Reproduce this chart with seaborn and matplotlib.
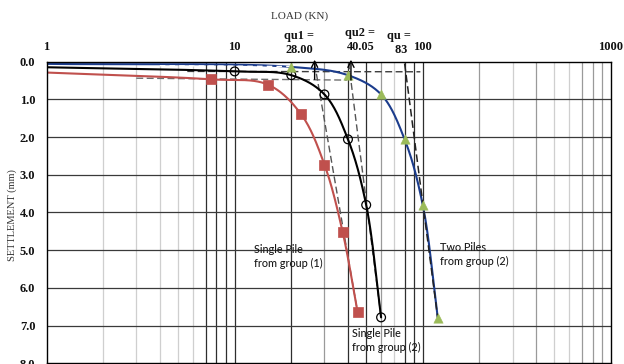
import numpy as np
import matplotlib
matplotlib.use("Agg")
import matplotlib.pyplot as plt
import seaborn as sns

# ---------------- data ----------------
# first point of each series = start of the curve at the left axis edge (no marker)
load_g1 = [1, 7.5, 15, 22.5, 30, 37.5, 45]
settle_g1 = [0.29, 0.47, 0.61, 1.39, 2.73, 4.52, 6.64]
load_g2 = [1, 10, 20, 30, 40, 50, 60]
settle_g2 = [0.15, 0.26, 0.36, 0.87, 2.06, 3.80, 6.78]
load_two = [1, 20, 40, 60, 80, 100, 120]
settle_two = [0.06, 0.14, 0.36, 0.87, 2.06, 3.81, 6.79]

# construction (tangent) lines
tanA_load = [3.0, 39.5]
tanA_settle = [0.44, 0.49]
tanB_load = [5.6, 97]
tanB_settle = [0.26, 0.27]
tanC_load = [4.0, 20]
tanC_settle = [0.11, 0.13]
tan_g1_load = [26.6, 45]
tan_g1_settle = [0.05, 6.64]
tan_g2_load = [40.3, 60]
tan_g2_settle = [0.02, 6.78]
tan_two_load = [80, 120]
tan_two_settle = [0.05, 6.79]

arrow_load = [26.6, 41.5]
arrow_from = [0.47, 0.49]

qu_texts = ["qu1 =\n28.00", "qu2 =\n40.05", "qu =\n 83"]
qu_load = [22.1, 46.6, 75.0]
qu_settle = [-0.50, -0.57, -0.50]

curve_texts = ["Single Pile\nfrom group (1)", "Single Pile\nfrom group (2)", "Two Piles\nfrom group (2)"]
curve_text_load = [12.6, 41.8, 123.8]
curve_text_settle = [5.17, 7.39, 5.11]

x_ticks = [1, 10, 100, 1000]
x_tick_labels = ["1", "10", "100", "1000"]
y_ticks = [0, 1, 2, 3, 4, 5, 6, 7, 8]

minor_vals = [2, 3, 4, 5, 6, 7, 8, 9, 10, 20, 30, 40, 50, 60, 70, 80, 90, 100,
              200, 300, 400, 500, 600, 700, 800, 900]
minor_shade = ["l", "l", "l", "l", "l", "d", "d", "d", "d", "d", "m", "d", "d", "m", "l", "d", "d", "d",
               "m", "l", "m", "l", "l", "m", "m", "m"]

# ---------------- helpers ----------------
SX, SY = 188.5, 37.7


def smooth(xs, ys, n=40):
    u = np.log10(np.asarray(xs, float)) * SX
    v = np.asarray(ys, float) * SY
    P = np.column_stack([u, v])
    P = np.vstack([2 * P[0] - P[1], P, 2 * P[-1] - P[-2]])
    out = []
    for i in range(1, len(P) - 2):
        p0, p1, p2, p3 = P[i - 1], P[i], P[i + 1], P[i + 2]
        t0 = 0.0
        t1 = t0 + np.linalg.norm(p1 - p0) ** 0.5
        t2 = t1 + np.linalg.norm(p2 - p1) ** 0.5
        t3 = t2 + np.linalg.norm(p3 - p2) ** 0.5
        t = np.linspace(t1, t2, n)[:, None]
        A1 = (t1 - t) / (t1 - t0) * p0 + (t - t0) / (t1 - t0) * p1
        A2 = (t2 - t) / (t2 - t1) * p1 + (t - t1) / (t2 - t1) * p2
        A3 = (t3 - t) / (t3 - t2) * p2 + (t - t2) / (t3 - t2) * p3
        B1 = (t2 - t) / (t2 - t0) * A1 + (t - t0) / (t2 - t0) * A2
        B2 = (t3 - t) / (t3 - t1) * A2 + (t - t1) / (t3 - t1) * A3
        C = (t2 - t) / (t2 - t1) * B1 + (t - t1) / (t2 - t1) * B2
        out.append(C if i == len(P) - 3 else C[:-1])
    C = np.vstack(out)
    return 10 ** (C[:, 0] / SX), C[:, 1] / SY


# ---------------- figure ----------------
sns.set_theme(style="white")
plt.rcParams["font.family"] = ["Liberation Serif", "DejaVu Serif"]

fig = plt.figure(figsize=(6.24, 3.64), dpi=100)
ax = fig.add_axes([46.5 / 624, 1 - 363.4 / 364, 564.5 / 624, 301.8 / 364])
ax.set_facecolor("white")
ax.set_xscale("log")
ax.set_xlim(1, 1000)
ax.set_ylim(8, 0)

# grid lines
shade_col = {"l": "#cfcfcf", "m": "#9a9a9a", "d": "#2e2e2e"}
for v, s in zip(minor_vals, minor_shade):
    ax.axvline(v, color=shade_col[s], lw=0.9, zorder=1)
for yv in y_ticks[1:-1]:
    ax.axhline(yv, color="#3a3a3a", lw=0.9, zorder=1)

# construction dashed lines
dash = dict(ls=(0, (5, 2.5)), lw=1.0, zorder=3)
ax.plot(tanA_load, tanA_settle, color="#6e6e6e", **dash)
ax.plot(tanB_load, tanB_settle, color="#3c3c3c", **dash)
ax.plot(tanC_load, tanC_settle, color="white", ls=(0, (4, 3)), lw=1.0, zorder=5)
ax.plot(tan_g1_load, tan_g1_settle, color="#555555", **dash)
ax.plot(tan_g2_load, tan_g2_settle, color="#555555", **dash)
ax.plot(tan_two_load, tan_two_settle, color="#222222", ls=(0, (5, 2.5)), lw=1.1, zorder=6)

# curves
red, navy, green = "#C0504D", "#1B3C8C", "#9BBB59"
for xs, ys, col in [(load_g1, settle_g1, red), (load_g2, settle_g2, "black"), (load_two, settle_two, navy)]:
    sx, sy = smooth(xs, ys)
    sns.lineplot(x=sx, y=sy, sort=False, estimator=None, color=col, lw=1.5, ax=ax, zorder=4)

sns.scatterplot(x=load_g1[1:], y=settle_g1[1:], marker="s", s=42, color=red, edgecolor=red,
                linewidth=0.5, ax=ax, zorder=7)
sns.scatterplot(x=load_g2[1:], y=settle_g2[1:], marker="o", s=40, facecolor="none", edgecolor="black",
                linewidth=0.9, ax=ax, zorder=7)
sns.scatterplot(x=load_two[1:], y=settle_two[1:], marker="^", s=46, color=green, edgecolor=green,
                linewidth=0.3, ax=ax, zorder=7)

# arrows (qu1, qu2)
for xl, y0 in zip(arrow_load, arrow_from):
    ax.annotate("", xy=(xl, -0.05), xytext=(xl, y0), annotation_clip=False,
                arrowprops=dict(arrowstyle="->", color="black", lw=1.0, shrinkA=0, shrinkB=0,
                                mutation_scale=11), zorder=8)

# qu labels
for t, xl, yl in zip(qu_texts, qu_load, qu_settle):
    ax.text(xl, yl, t, ha="center", va="center", fontsize=8.8, fontweight="bold",
            linespacing=1.25, clip_on=False, color="#111111")

# curve labels
for t, xl, yl in zip(curve_texts, curve_text_load, curve_text_settle):
    ax.text(xl, yl, t, ha="left", va="center", fontsize=7.8, family=["Lato", "DejaVu Sans"],
            fontweight="medium", linespacing=1.35, color="#1a1a1a", zorder=9)

# axes, ticks, labels
ax.xaxis.tick_top()
ax.set_xticks(x_ticks)
ax.set_xticklabels(x_tick_labels)
ax.xaxis.set_minor_locator(matplotlib.ticker.NullLocator())
ax.set_yticks(y_ticks)
ax.set_yticklabels([f"{v:.1f}" for v in y_ticks])
ax.tick_params(axis="both", length=0, labelsize=9, colors="#111111")
ax.tick_params(axis="x", pad=6)
ax.tick_params(axis="y", pad=8)
for lab in ax.get_xticklabels() + ax.get_yticklabels():
    lab.set_fontweight("bold")

ax.xaxis.set_label_position("top")
ax.set_xlabel("LOAD (KN)", fontsize=8, color="#333333")
ax.xaxis.set_label_coords((300 - 46.5) / 564.5, 1 + 45.6 / 301.8)
ax.xaxis.label.set_va("center")
ax.set_ylabel("SETTLEMENT (mm)", fontsize=7.5, color="#333333")
ax.yaxis.set_label_coords((12.5 - 46.5) / 564.5, 0.49)
ax.yaxis.label.set_va("center")

for sp in ax.spines.values():
    sp.set_visible(True)
    sp.set_color("black")
    sp.set_linewidth(1.0)
    sp.set_zorder(10)

fig.savefig("out.png", dpi=100, facecolor="white")
